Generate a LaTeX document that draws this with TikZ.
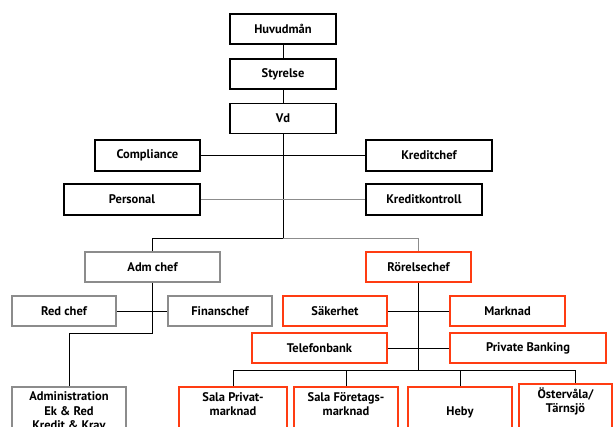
\documentclass[tikz,border=0pt]{standalone}
\usepackage{fontspec}
\setmainfont{PT Sans}
\usetikzlibrary{calc}
\definecolor{orgred}{HTML}{FF3C12}
\definecolor{orggray}{HTML}{8C8C8C}

\begin{document}
\begin{tikzpicture}[x=1pt, y=-1pt,
  unit/.style={draw=#1, line width=1.8pt, fill=white, inner sep=0pt, minimum height=30, align=center, font=\fontsize{12.5}{14.5}\selectfont\bfseries},
  txt/.style={align=center, font=\fontsize{12.5}{14.5}\selectfont\bfseries, inner sep=0pt},
  link/.style={line width=0.9pt, draw=#1}
]
\useasboundingbox (0,0) rectangle (613,427);
\clip (0,0) rectangle (613,427);

% Top of the organisation
\node[unit=black, minimum width=106] (huvud) at (283, 29) {Huvudmån};
\node[unit=black, minimum width=106] (styr) at (283, 74) {Styrelse};
\node[unit=black, minimum width=106] (vd) at (283, 118.5) {Vd};

% Staff functions beside the Vd line
\node[unit=black, minimum width=105, minimum height=31] (compl) at (147.5, 155.5) {Compliance};
\node[unit=black, minimum width=126, minimum height=31] (kredit) at (429, 155.5) {Kreditchef};
\node[unit=black, minimum width=136, minimum height=31] (pers) at (132, 199.5) {Personal};
\node[unit=black, minimum width=116, minimum height=31] (kkontr) at (424, 199.5) {Kreditkontroll};

% Second level
\node[unit=orggray, minimum width=135] (adm) at (152.5, 267) {Adm chef};
\node[unit=orgred, minimum width=105] (rorelse) at (418.5, 267) {Rörelsechef};

% Adm chef branch
\node[unit=orggray, minimum width=104] (red) at (64, 311) {Red chef};
\node[unit=orggray, minimum width=104] (finans) at (220, 311) {Finanschef};
\node[unit=orggray, minimum width=114, minimum height=80, anchor=north] (admin) at (69, 386) {};
\node[txt] at (69, 411) {Administration\\Ek \& Red\\Kredit \& Krav};

% Rörelsechef branch
\node[unit=orgred, minimum width=104] (saker) at (335, 311) {Säkerhet};
\node[unit=orgred, minimum width=115] (mark) at (507.5, 311) {Marknad};
\node[unit=orgred, minimum width=135] (telef) at (319.5, 348) {Telefonbank};
\node[unit=orgred, minimum width=156] (privb) at (528, 348) {Private Banking};

% Offices (cut at the bottom edge)
\node[unit=orgred, minimum width=108, minimum height=80, anchor=north] (salap) at (233, 386) {};
\node[txt] at (233, 404) {Sala Privat-\\marknad};
\node[unit=orgred, minimum width=104, minimum height=80, anchor=north] (salaf) at (346, 386) {};
\node[txt] at (346, 404) {Sala Företags-\\marknad};
\node[unit=orgred, minimum width=104, minimum height=80, anchor=north] (heby) at (460, 386) {};
\node[txt] at (460, 412) {Heby};
\node[unit=orgred, minimum width=93, minimum height=80, anchor=north] (oster) at (565.5, 383) {};
\node[txt] at (565.5, 401.5) {Östervåla/\\Tärnsjö};

% Connectors
\draw[link=black] (huvud) -- (styr);
\draw[link=black] (styr) -- (vd);
\coordinate (split) at (vd.south |- 0,238);
\draw[link=black] (vd) -- (split);
\draw[link=black] (compl) -- (kredit);
\draw[link=orggray] (pers) -- (kkontr);
\draw[link=black] (adm.north) |- (split);
\draw[link=orggray] (rorelse.north) |- (split);

\coordinate (admbend) at (adm.south |- 0,333);
\draw[link=black] (adm.south) -- (admbend) -| (admin.north);
\draw[link=black] (red) -- (finans);

\coordinate (rorbus) at (rorelse.south |- 0,370);
\draw[link=black] (rorelse.south) -- (rorbus);
\draw[link=black] (saker) -- (mark);
\draw[link=black] (telef) -- (privb);
\draw[link=black] (salap.north) |- (rorbus);
\draw[link=black] (salaf.north) |- (rorbus);
\draw[link=black] (heby.north) |- (rorbus);
\draw[link=black] ($(oster.north)+(9.5,0)$) |- (rorbus);
\end{tikzpicture}
\end{document}
